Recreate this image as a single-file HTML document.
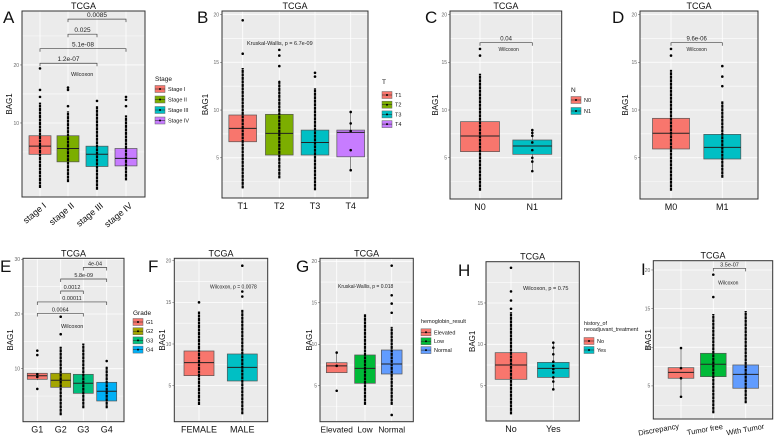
<!DOCTYPE html>
<html><head><meta charset="utf-8"><style>
html,body{margin:0;padding:0;background:#fff;}
svg{display:block;font-family:"Liberation Sans",Arial,sans-serif;}
</style></head><body>
<svg id="fig" width="778" height="439" viewBox="0 0 778 439" xmlns="http://www.w3.org/2000/svg"></svg>
<script>
// ===== Panel A data =====
const catsA=['stage I','stage II','stage III','stage IV'];
const q1A=[4.6,3.3,2.5,2.6], medA=[6.0,5.6,4.6,3.9], q3A=[7.8,7.8,6.0,5.6];
const loA=[-1.2,-0.2,-1.5,0.1], hiA=[13.5,12.0,12.9,11.3];
const outA=[[14.5,15.7,19.4],[12.9,15.7,16.1],[13.8],[12.9,14.0,14.5]];
const denseA=[1,1,1,1];
const ticksA=[10,20];
const brA=[[0,2,20.3,'1.2e-07'],[0,3,22.8,'5.1e-08'],[1,2,25.3,'0.025'],[1,3,27.9,'0.0085']];
// ===== Panel B =====
const catsB=['T1','T2','T3','T4'];
const q1B=[6.68,5.29,5.29,5.1], medB=[8.08,7.56,6.6,7.66], q3B=[9.48,9.55,7.9,7.9];
const loB=[1.8,2.85,1.6,3.7], hiB=[14.4,13.1,12.3,9.8];
const outB=[[15.9,19.4],[14.6,15.7,16.3],[13.5,13.9],[9.8,8.6,7.8,5.8,3.7]];
const denseB=[1,1,1,0];
const ticksB=[5,10,15,20];
// ===== Panel C =====
const catsC=['N0','N1'];
const q1C=[5.64,5.36], medC=[7.28,6.23], q3C=[8.78,6.86];
const loC=[1.55,3.6], hiC=[13.8,7.9];
const outC=[[15.7,16.4],[7.9,7.6,7.3,6.6,5.8,5.0,4.6,3.6]];
const denseC=[1,0];
const brC=[[0,1,17.05,'0.04']];
// ===== Panel D =====
const catsD=['M0','M1'];
const q1D=[5.92,4.87], medD=[7.56,6.09], q3D=[9.13,7.45];
const loD=[1.55,2.9], hiD=[14.2,10.9];
const outD=[[15.7,16.4],[12.5,13.5,14.6]];
const denseD=[1,1];
const brD=[[0,1,17.05,'9.6e-06']];
// ===== Panel E =====
const catsE=['G1','G2','G3','G4'];
const q1E=[8.06,6.6,5.5,4.1], medE=[8.72,7.88,7.33,5.87], q3E=[9.16,9.16,8.97,7.51];
const loE=[7.9,1.5,2.76,2.76], hiE=[9.2,14.0,14.6,10.4];
const outE=[[6.3,8.5,9.0,12.5,13.3],[16.3,19.5],[],[11.4]];
const denseE=[0,1,1,1];
const ticksE=[10,20,30];
const brE=[[0,2,20.1,'0.0064'],[0,3,22.2,'0.00011'],[1,2,24.2,'0.0012'],[1,3,26.4,'5.8e-09'],[2,3,28.5,'4e-04']];
// ===== Panel F =====
const catsF=['FEMALE','MALE'];
const q1F=[6.2,5.56], medF=[7.76,7.2], q3F=[9.16,8.8];
const loF=[2.68,1.56], hiF=[13.9,14.1];
const outF=[[15.0],[15.7,16.3,19.4]];
const denseF=[1,1];
// ===== Panel G =====
const catsG=['Elevated','Low','Normal'];
const q1G=[6.58,5.3,6.42], medG=[7.39,7.1,7.63], q3G=[7.78,8.71,9.31];
const loG=[6.58,2.7,2.7], hiG=[9.0,13.65,12.1];
const outG=[[9.0,7.4,4.4],[],[1.48,13.8,14.9,15.9,19.47]];
const denseG=[0,1,1];
// ===== Panel H =====
const catsH=['No','Yes'];
const q1H=[5.77,6.0], medH=[7.5,7.1], q3H=[8.99,7.82];
const loH=[1.53,4.56], hiH=[13.9,10.2];
const outH=[[14.3,15.3,16.4,19.26],[10.2,9.6,8.8,7.9,7.4,7.0,6.6,6.0,5.5,4.56]];
const denseH=[1,0];
// ===== Panel I =====
const catsI=['Discrepancy','Tumor free','With Tumor'];
const q1I=[5.99,6.2,4.7], medI=[6.76,7.8,6.5], q3I=[7.36,9.22,7.71];
const loI=[3.6,1.46,2.76], hiI=[9.9,14.3,14.7];
const outI=[[9.9,7.3,6.0,3.6],[16.5,19.4],[]];
const denseI=[0,1,1];
const brI=[[1,2,20.2,'3.5e-07']];
const ticks5=[5,10,15,20];

const C4=['#F8766D','#7CAE00','#00BFC4','#C77CFF'];
const C2=['#F8766D','#00BFC4'];
const C3=['#F8766D','#00BA38','#619CFF'];
const CE=['#F8766D','#A3A500','#00BF7D','#00B0F6'];

const svg=document.getElementById('fig');
const NS='http://www.w3.org/2000/svg';
function mk(tag,attrs,parent){const e=document.createElementNS(NS,tag);for(const k in attrs)e.setAttribute(k,attrs[k]);(parent||svg).appendChild(e);return e;}

function panel(p){
  const g=mk('g',{});
  
  
  const y=v=>p.y1-(v-p.ymin)/(p.ymax-p.ymin)*(p.y1-p.y0);
  const n=p.cats.length;
  const xs=i=>p.cx[i];
  const bg=mk('rect',{x:p.x0,y:p.y0,width:p.x1-p.x0,height:p.y1-p.y0,fill:'#EBEBEB'},g);
  
  
  for(let k=0;k<p.ticks.length;k++){
    const t=p.ticks[k];const step=p.ticks.length>1?p.ticks[1]-p.ticks[0]:10;
    [t-step/2,t+step/2].forEach(m=>{if(m>p.ymin&&m<p.ymax)mk('line',{x1:p.x0,x2:p.x1,y1:y(m),y2:y(m),stroke:'#fff','stroke-width':0.4},g);});
    if(t>p.ymin&&t<p.ymax){
      mk('line',{x1:p.x0,x2:p.x1,y1:y(t),y2:y(t),stroke:'#fff','stroke-width':0.8},g);
      const tl=mk('text',{x:p.x0-3,y:y(t)+1.8,'font-size':5,fill:'#666','text-anchor':'end'},g);
      tl.textContent=t;
      
      
      mk('line',{x1:p.x0-2,x2:p.x0,y1:y(t),y2:y(t),stroke:'#555','stroke-width':0.5},g);
    }
  }
  for(let i=0;i<n;i++)mk('line',{x1:xs(i),x2:xs(i),y1:p.y0,y2:p.y1,stroke:'#fff','stroke-width':0.8},g);
  for(let i=0;i<n;i++){
    const bw=p.bw,cx=xs(i);
    mk('line',{x1:cx,x2:cx,y1:y(p.lo[i]),y2:y(p.hi[i]),stroke:'#444','stroke-width':0.6},g);
    const b=mk('rect',{x:cx-bw/2,y:y(p.q3[i]),width:bw,height:y(p.q1[i])-y(p.q3[i]),fill:p.col[i],stroke:'#555','stroke-width':0.7},g);
    
    
    mk('line',{x1:cx-bw/2,x2:cx+bw/2,y1:y(p.med[i]),y2:y(p.med[i]),stroke:'#222','stroke-width':1},g);
    if(p.dense[i]){
      const s=mk('line',{x1:cx,x2:cx,y1:y(p.lo[i]),y2:y(p.hi[i]),stroke:'#000','stroke-width':2.2,'stroke-dasharray':'3 0.5'},g);
      
      
    }
    p.out[i].forEach(v=>{
      const c=mk('circle',{cx:cx,cy:y(v),r:1.3,fill:'#000'},g);
      
      
    });
    const lx=mk('text',{'font-size':p.xfs||9,fill:'#111'},g);
    lx.textContent=p.cats[i];
    
    
    if(p.rot){lx.setAttribute('text-anchor','end');lx.setAttribute('transform','translate('+(cx+3)+','+(p.y1+5)+') rotate(-40)');lx.setAttribute('x',0);lx.setAttribute('y',6);}
    else if(p.rot2){lx.setAttribute('text-anchor','middle');lx.setAttribute('transform','translate('+(cx+p.rot2[i])+','+(p.y1+13)+') rotate(-10)');}
    else{lx.setAttribute('text-anchor','middle');lx.setAttribute('x',cx);lx.setAttribute('y',p.y1+11);}
  }
  mk('rect',{x:p.x0,y:p.y0,width:p.x1-p.x0,height:p.y1-p.y0,fill:'none',stroke:'#333','stroke-width':1},g);
  (p.br||[]).forEach(b=>{
    const a=xs(b[0]),c=xs(b[1]),yy=y(b[2]);
    const pl=mk('path',{d:'M'+a+','+(yy+3)+'V'+yy+'H'+c+'V'+(yy+3),fill:'none',stroke:'#444','stroke-width':0.7},g);
    
    
    const t=mk('text',{x:(a+c)/2,y:yy-2,'font-size':p.bfs||6,fill:'#222','text-anchor':'middle'},g);
    t.textContent=b[3];
    
    
  });
  if(p.note){
    const t=mk('text',{x:p.note[0],y:p.note[1],'font-size':p.note[3]||5.5,fill:'#222','text-anchor':p.note[4]||'start'},g);
    t.textContent=p.note[2];
    
    
  }
  const tt=mk('text',{x:(p.x0+p.x1)/2,y:p.y0-2,'font-size':9,fill:'#111','text-anchor':'middle'},g);
  tt.textContent='TCGA';
  
  
  const yl=mk('text',{'font-size':8,fill:'#111','text-anchor':'middle',transform:'translate('+p.ylx+','+((p.y0+p.y1)/2)+') rotate(-90)'},g);
  yl.textContent='BAG1';
  
  
  const L=mk('text',{x:p.lx,y:p.ly,'font-size':17,fill:'#111'},g);
  L.textContent=p.id;
  
  
  if(p.leg){
    const lg=mk('g',{},g);
    
    
    p.leg.title.forEach((tl,k)=>{const t=mk('text',{x:p.leg.x,y:p.leg.ty+k*6,'font-size':p.leg.tfs||6.5,fill:'#111'},lg);t.textContent=tl;});
    p.leg.labels.forEach((lb,k)=>{
      const ky=p.leg.ky+k*p.leg.dy;
      const it=mk('g',{},lg);
      
      
      mk('rect',{x:p.leg.x,y:ky-3.5,width:10,height:7,fill:p.col[k],stroke:'#666','stroke-width':0.5},it);
      mk('line',{x1:p.leg.x,x2:p.leg.x+10,y1:ky,y2:ky,stroke:'#222','stroke-width':0.5},it);
      mk('circle',{cx:p.leg.x+5,cy:ky,r:1,fill:'#000'},it);
      const t=mk('text',{x:p.leg.x+13,y:ky+2,'font-size':5.5,fill:'#111'},it);t.textContent=lb;
    });
  }
}

panel({id:'A',cats:catsA,q1:q1A,med:medA,q3:q3A,lo:loA,hi:hiA,out:outA,dense:denseA,col:C4,ticks:ticksA,br:brA,
  x0:22,x1:145,y0:11,y1:197,ymin:-2.76,ymax:29.3,cx:[40,68,97,126],bw:22,rot:1,ylx:12,lx:3,ly:23,bfs:6.5,
  note:[71,76,'Wilcoxon',5.5],
  leg:{x:155,title:['Stage'],ty:81,ky:89,dy:10.5,labels:['Stage I','Stage II','Stage III','Stage IV']}});
panel({id:'B',cats:catsB,q1:q1B,med:medB,q3:q3B,lo:loB,hi:hiB,out:outB,dense:denseB,col:C4,ticks:ticksB,
  x0:222,x1:368,y0:11,y1:198,ymin:0.79,ymax:20.37,cx:[242.7,279.3,315,350.7],bw:27.7,ylx:208,lx:197,ly:23,
  note:[247,45,'Kruskal-Wallis, p = 6.7e-09',5.5],
  leg:{x:382,title:['T'],ty:84,ky:95,dy:9.7,labels:['T1','T2','T3','T4']}});
panel({id:'C',cats:catsC,q1:q1C,med:medC,q3:q3C,lo:loC,hi:hiC,out:outC,dense:denseC,col:C2,ticks:ticksB,br:brC,
  x0:450,x1:561.7,y0:11,y1:199,ymin:0.68,ymax:20.37,cx:[480,532.3],bw:39,ylx:438,lx:425,ly:23,bfs:6,
  note:[508.7,51,'Wilcoxon',5,'middle'],
  leg:{x:571,title:['N'],ty:92,ky:100,dy:11,labels:['N0','N1']}});
panel({id:'D',cats:catsD,q1:q1D,med:medD,q3:q3D,lo:loD,hi:hiD,out:outD,dense:denseD,col:C2,ticks:ticksB,br:brD,
  x0:640,x1:758,y0:11,y1:199,ymin:0.68,ymax:20.37,cx:[671,722.3],bw:37,ylx:628,lx:612,ly:23,bfs:6,
  note:[696.7,51,'Wilcoxon',5,'middle']});
panel({id:'E',cats:catsE,q1:q1E,med:medE,q3:q3E,lo:loE,hi:hiE,out:outE,dense:denseE,col:CE,ticks:ticksE,br:brE,
  x0:23,x1:124,y0:258.3,y1:421.7,ymin:0.31,ymax:30.18,cx:[37.3,60.7,83.3,106.7],bw:20,ylx:13,lx:0,ly:272,bfs:5.5,
  note:[61,328,'Wilcoxon',5.5],
  leg:{x:133,title:['Grade'],ty:315,ky:322,dy:9.2,labels:['G1','G2','G3','G4']}});
panel({id:'F',cats:catsF,q1:q1F,med:medF,q3:q3F,lo:loF,hi:hiF,out:outF,dense:denseF,col:C2,ticks:ticks5,
  x0:174.3,x1:267.7,y0:258.3,y1:421.7,ymin:0.67,ymax:20.29,cx:[199,242.3],bw:30,ylx:165,lx:148,ly:272,
  note:[210,288.5,'Wilcoxon, p = 0.0078',5]});
panel({id:'G',cats:catsG,q1:q1G,med:medG,q3:q3G,lo:loG,hi:hiG,out:outG,dense:denseG,col:C3,ticks:ticks5,
  x0:320,x1:413.3,y0:258.3,y1:421.7,ymin:0.67,ymax:20.36,cx:[336.7,365,391.7],bw:20.7,ylx:312,lx:296,ly:272,xfs:8.3,
  note:[338,288,'Kruskal-Wallis, p = 0.018',5],
  leg:{x:421,title:['hemoglobin_result'],ty:323,ky:332.3,dy:8.9,tfs:5.5,labels:['Elevated','Low','Normal']}});
panel({id:'H',cats:catsH,q1:q1H,med:medH,q3:q3H,lo:loH,hi:hiH,out:outH,dense:denseH,col:C2,ticks:ticks5,
  x0:486,x1:579.3,y0:261.7,y1:421,ymin:0.73,ymax:19.99,cx:[511,553.3],bw:31.7,ylx:475,lx:458,ly:276,
  note:[523,290,'Wilcoxon, p = 0.75',5.5],
  leg:{x:584,title:['history_of','neoadjuvant_treatment'],ty:325,ky:341,dy:9,tfs:5.3,labels:['No','Yes']}});
panel({id:'I',cats:catsI,q1:q1I,med:medI,q3:q3I,lo:loI,hi:hiI,out:outI,dense:denseI,col:C3,ticks:ticks5,br:brI,
  x0:653.3,x1:772.7,y0:260.7,y1:419,ymin:0.72,ymax:21.2,cx:[681,713.3,745.7],bw:25.7,ylx:651,lx:641,ly:275,rot2:[-22,-8,0],xfs:7.5,bfs:5.5,
  note:[728.3,284.5,'Wilcoxon',5,'middle']});
</script>
</body></html>
